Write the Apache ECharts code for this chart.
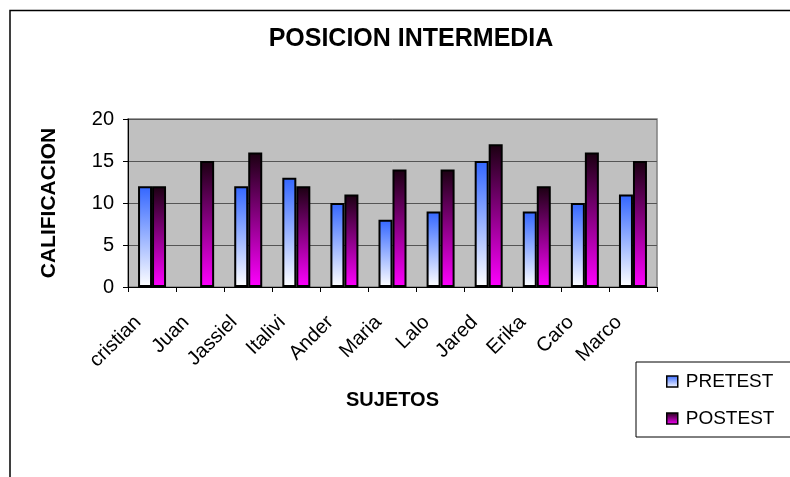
<!DOCTYPE html>
<html><head><meta charset="utf-8">
<script src="https://cdn.jsdelivr.net/npm/echarts@6/dist/echarts.min.js"></script>
<style>html,body{margin:0;padding:0;background:#fff}#c{width:790px;height:477px}</style>
</head><body><div id="c"></div>
<script>
const categories = ['cristian','Juan','Jassiel','Italivi','Ander','Maria','Lalo','Jared','Erika','Caro','Marco'];
const pretest = [12, null, 12, 13, 10, 8, 9, 15, 9, 10, 11];
const postest = [12, 15, 16, 12, 11, 14, 14, 17, 12, 16, 15];
const yTicks = [0, 5, 10, 15, 20];

const chart = echarts.init(document.getElementById('c'), null, {renderer:'canvas'});
const F = 'Liberation Sans, Arial, sans-serif';
const gradPre = new echarts.graphic.LinearGradient(0,0,0,1,[{offset:0,color:'#3366ff'},{offset:1,color:'#ffffff'}]);
const gradPost = new echarts.graphic.LinearGradient(0,0,0,1,[{offset:0,color:'#1a0010'},{offset:1,color:'#ff00ff'}]);
chart.setOption({
  animation:false,
  backgroundColor:'#fff',
  title:{text:'POSICION INTERMEDIA',left:406,top:22,textAlign:'center',
    textStyle:{fontFamily:F,fontSize:25,fontWeight:'bold',color:'#000'}},
  graphic:[
    {type:'polyline',shape:{points:[[10,477],[10,10.5],[790,10.5]]},style:{stroke:'#000',lineWidth:1.5,fill:null},z:-1},
    {type:'rect',shape:{x:636,y:362,width:160,height:75},style:{fill:'#fff',stroke:'#000',lineWidth:1},z:-1}
  ],
  legend:{orient:'vertical',left:661,top:367,itemGap:18,itemWidth:11,itemHeight:11,
    icon:'rect',
    textStyle:{fontFamily:F,fontSize:19,color:'#000',padding:[0,0,0,3]},
    data:[{name:'PRETEST',itemStyle:{color:gradPre,borderColor:'#000',borderWidth:1.5}},
          {name:'POSTEST',itemStyle:{color:gradPost,borderColor:'#000',borderWidth:1.5}}]},
  grid:{left:128,right:133,top:119,bottom:190,containLabel:false,show:true,backgroundColor:'#c0c0c0',borderColor:'#808080',borderWidth:1.5},
  xAxis:{type:'category',data:categories,name:'SUJETOS',nameLocation:'middle',nameGap:103,
    nameTextStyle:{fontFamily:F,fontSize:20,fontWeight:'bold',color:'#000'},
    axisLine:{lineStyle:{color:'#000',width:1}},
    axisTick:{show:true,alignWithLabel:false,length:5,lineStyle:{color:'#000'}},
    axisLabel:{rotate:45,fontFamily:F,fontSize:20,color:'#000',margin:18,interval:0,padding:[0,20,0,0]},
    splitLine:{show:false}},
  yAxis:{type:'value',min:0,max:20,interval:5,name:'CALIFICACION',nameLocation:'middle',nameGap:68,
    nameTextStyle:{fontFamily:F,fontSize:21,fontWeight:'bold',color:'#000'},
    axisLine:{show:true,lineStyle:{color:'#000',width:1}},
    axisTick:{show:true,length:5,lineStyle:{color:'#000'}},
    axisLabel:{fontFamily:F,fontSize:20,color:'#000',margin:14,
      formatter:v=>yTicks.includes(v)?String(v):''},
    splitLine:{show:true,lineStyle:{color:'#555',width:1}}},
  series:[
    {name:'PRETEST',type:'bar',data:pretest,barWidth:14,barGap:'0%',
      itemStyle:{color:gradPre,borderColor:'#000',borderWidth:2}},
    {name:'POSTEST',type:'bar',data:postest,barWidth:14,barGap:'0%',
      itemStyle:{color:gradPost,borderColor:'#000',borderWidth:2}}
  ]
});
</script></body></html>
